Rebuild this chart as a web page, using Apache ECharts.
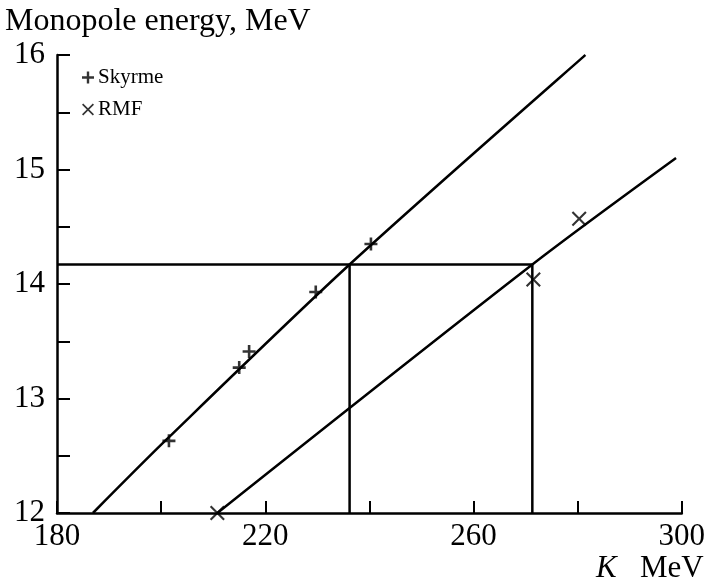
<!DOCTYPE html>
<html>
<head>
<meta charset="utf-8">
<script src="https://cdn.jsdelivr.net/npm/echarts@6/dist/echarts.min.js"></script>
<style>html,body{margin:0;padding:0;background:#fff}#c{width:708px;height:587px}</style>
</head>
<body>
<div id="c"></div>
<script>
// Data
const skyrmePoints = [[201.5, 12.63], [215.0, 13.27], [216.9, 13.41], [229.7, 13.93], [240.3, 14.35]];
const rmfPoints = [[210.8, 12.0], [271.5, 14.04], [280.3, 14.57]];
const skyrmeFit = [[186.9, 12.0], [201.0, 12.64], [236.2, 14.17], [281.5, 16.0]];
const rmfFit = [[210.8, 12.0], [271.3, 14.17], [298.9, 15.10]];
const refEnergy = 14.17;
const refK = [236.2, 271.3];
const xTicks = [180, 220, 260, 300];
const yTicks = [12, 13, 14, 15, 16];

const FONT = 'Liberation Serif';
const PLUS = 'path://M4,0H6V4H10V6H6V10H4V6H0V4H4Z';
const CROSS = 'path://M0,1L1,0L5,4L9,0L10,1L6,5L10,9L9,10L5,6L1,10L0,9L4,5Z';

const chart = echarts.init(document.getElementById('c'), null, {renderer: 'canvas'});
chart.setOption({
  animation: false,
  backgroundColor: '#fff',
  title: {
    text: 'Monopole energy, MeV',
    left: 0, top: 1,
    textStyle: {fontFamily: FONT, fontSize: 32, fontWeight: 'normal', color: '#000'}
  },
  legend: {
    data: [{name: 'Skyrme', icon: PLUS}, {name: 'RMF', icon: CROSS}],
    orient: 'vertical',
    left: 77, top: 62,
    itemWidth: 12, itemHeight: 12, itemGap: 11,
    textStyle: {fontFamily: FONT, fontSize: 21, color: '#000', padding: [0, 0, 0, -1]}
  },
  grid: {left: 57, right: 23, top: 55, bottom: 74, containLabel: false},
  xAxis: {
    type: 'value', min: 180, max: 300, interval: 20,
    name: '{k|K}   MeV',
    nameLocation: 'end', nameGap: 22,
    nameTextStyle: {
      fontFamily: FONT, fontSize: 31, color: '#000', align: 'right', verticalAlign: 'top',
      padding: [40, 0, 0, 0],
      rich: {k: {fontFamily: FONT, fontSize: 31, fontStyle: 'italic', color: '#000'}}
    },
    axisLine: {lineStyle: {color: '#000', width: 2.5}},
    axisTick: {inside: true, length: 12, lineStyle: {color: '#000', width: 2}},
    axisLabel: {
      margin: 8, fontFamily: FONT, fontSize: 31, color: '#000',
      formatter: v => xTicks.includes(v) ? String(v) : ''
    },
    splitLine: {show: false}
  },
  yAxis: {
    type: 'value', min: 12, max: 16, interval: 0.5,
    axisLine: {lineStyle: {color: '#000', width: 2.5}},
    axisTick: {inside: true, length: 13, lineStyle: {color: '#000', width: 2}},
    axisLabel: {
      margin: 12, fontFamily: FONT, fontSize: 31, color: '#000',
      formatter: v => yTicks.includes(v) ? String(v) : ''
    },
    splitLine: {show: false}
  },
  series: [
    {
      name: 'Skyrme fit', type: 'line', data: skyrmeFit, smooth: 0.3, showSymbol: false,
      lineStyle: {color: '#000', width: 2.5}, z: 2
    },
    {
      name: 'RMF fit', type: 'line', data: rmfFit, smooth: 0.3, showSymbol: false,
      lineStyle: {color: '#000', width: 2.5}, z: 2
    },
    {
      name: 'ref1', type: 'line', showSymbol: false,
      data: [[180, refEnergy], [refK[1], refEnergy], [refK[1], 12]],
      lineStyle: {color: '#000', width: 2.5}, z: 2
    },
    {
      name: 'ref2', type: 'line', showSymbol: false,
      data: [[refK[0], 12], [refK[0], refEnergy]],
      lineStyle: {color: '#000', width: 2.5}, z: 2
    },
    {
      name: 'Skyrme', type: 'scatter', data: skyrmePoints, symbol: PLUS, symbolSize: 13,
      itemStyle: {color: '#000'}, z: 3
    },
    {
      name: 'RMF', type: 'scatter', data: rmfPoints, symbol: CROSS, symbolSize: 15,
      itemStyle: {color: '#000'}, z: 3
    }
  ]
});
</script>
</body>
</html>
